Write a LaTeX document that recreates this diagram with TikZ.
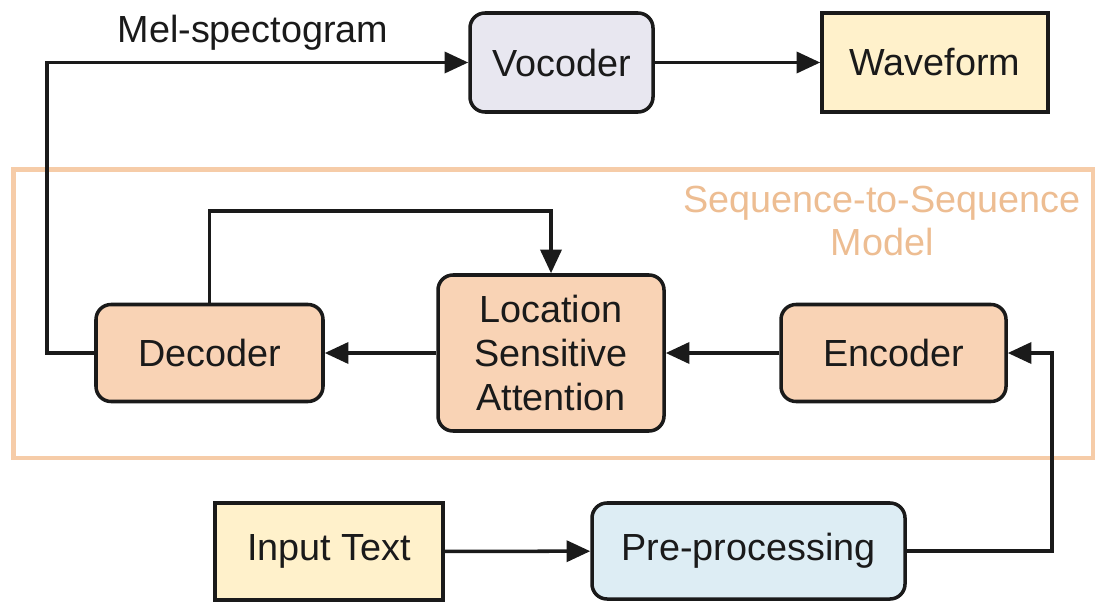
\documentclass[tikz,border=0pt]{standalone}
\usepackage{fontspec}
\setmainfont{Liberation Sans}
\usetikzlibrary{arrows.meta}

\definecolor{vocfill}{HTML}{E8E7F0}
\definecolor{yelfill}{HTML}{FFF1CB}
\definecolor{orfill}{HTML}{F9D3B5}
\definecolor{bluefill}{HTML}{DDEDF4}
\definecolor{frameor}{HTML}{F6CCA8}
\definecolor{lblor}{HTML}{EDBD92}
\definecolor{ink}{HTML}{1A1A1A}

\tikzset{
    box/.style={draw=ink, line width=2pt, text=ink, inner sep=0pt},
    rbox/.style={box, rounded corners=0.3cm},
    arr/.style={draw=ink, line width=2pt, -{Triangle[length=13.5pt,width=12pt]}},
}

\begin{document}
\begin{tikzpicture}[x=0.02cm, y=-0.02cm, font=\fontsize{21.5}{25}\selectfont]
        \useasboundingbox (0,0) rectangle (1097,601);

        % seq2seq frame
        \node[draw=frameor, line width=2.6pt, minimum width=1079.5*0.02cm, minimum height=288.5*0.02cm] (seq) at (553.25,313.75) {};
        \node[text=lblor, align=center] (seqlbl) at (882,221) {Sequence-to-Sequence\\Model};

        % top row
        \node[rbox, fill=vocfill, minimum width=183*0.02cm, minimum height=99*0.02cm] (voc) at (561.5,62.5) {Vocoder};
        \node[box, fill=yelfill, minimum width=226*0.02cm, minimum height=99*0.02cm] (wave) at (935,62.5) {Waveform};
        \node[text=ink] (mel) at (253,33) {Mel-spectogram};

        % model row
        \node[rbox, fill=orfill, minimum width=227*0.02cm, minimum height=97*0.02cm] (dec) at (209.5,353) {Decoder};
        \node[rbox, fill=orfill, align=center, minimum width=226*0.02cm, minimum height=156*0.02cm] (lsa) at (551,353) {Location\\Sensitive\\Attention};
        \node[rbox, fill=orfill, minimum width=225*0.02cm, minimum height=97*0.02cm] (enc) at (893.5,353) {Encoder};

        % bottom row
        \node[box, fill=yelfill, minimum width=228*0.02cm, minimum height=97*0.02cm] (inp) at (329,551.5) {Input Text};
        \node[rbox, fill=bluefill, minimum width=313*0.02cm, minimum height=96*0.02cm] (pre) at (748.5,551) {Pre-processing};

        % connectors
        \draw[arr] (inp) -- (pre);
        \draw[arr] (pre.east) -- ++(145,0) |- (enc.east);
        \draw[arr] (enc) -- (lsa);
        \draw[arr] (lsa) -- (dec);
        \draw[arr] (dec.north) -- ++(0,-92) -| (lsa.north);
        \draw[arr] (dec.west) -- ++(-47,0) |- (voc.west);
        \draw[arr] (voc) -- (wave);
    \end{tikzpicture}
\end{document}
